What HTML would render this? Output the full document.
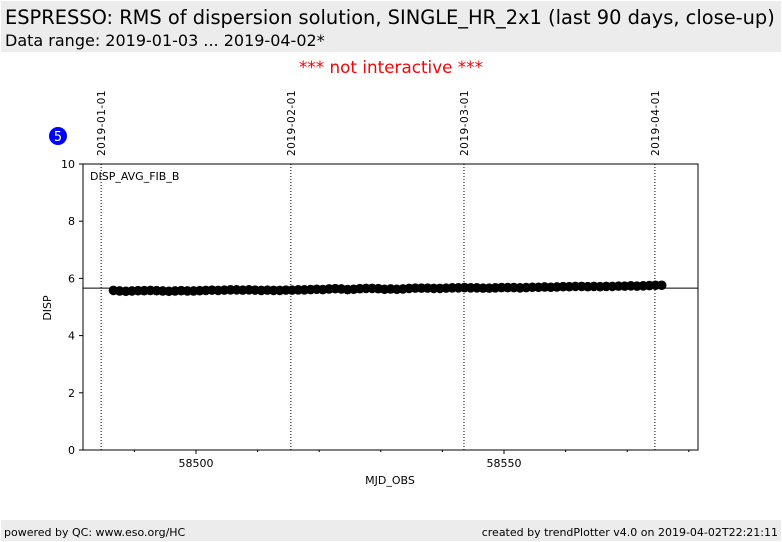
<!DOCTYPE html>
<html><head><meta charset="utf-8">
<style>
body{margin:0;width:782px;height:542px;background:#fff;font-family:"DejaVu Sans","Liberation Sans",sans-serif;position:relative;overflow:hidden}
.hdr{position:absolute;left:1px;top:1px;width:780px;height:51px;background:#ececec}
.t1{position:absolute;left:4px;top:5px;font-size:19.4px;color:#000;white-space:nowrap}
.t2{position:absolute;left:4px;top:30px;font-size:16px;color:#000;white-space:nowrap}
.ftr{position:absolute;left:1px;top:520px;width:780px;height:21px;background:#ececec;font-size:11px}
</style></head><body>
<div class="hdr">
<div class="t1">ESPRESSO: RMS of dispersion solution, SINGLE_HR_2x1 (last 90 days, close-up)</div>
<div class="t2">Data range: 2019-01-03 ... 2019-04-02*</div>
</div>
<div class="ftr">
<span style="position:absolute;left:3px;top:6px">powered by QC: www.eso.org/HC</span>
<span style="position:absolute;right:3px;top:6px">created by trendPlotter v4.0 on 2019-04-02T22:21:11</span>
</div>
<svg id="chart" width="782" height="542" style="position:absolute;left:0;top:0" font-family="DejaVu Sans, Liberation Sans, sans-serif"></svg>
<script>
const dateLabels=["2019-01-01","2019-02-01","2019-03-01","2019-04-01"];
const dateMjd=[58484.6,58515.4,58543.5,58574.5];
const yTicks=[0,2,4,6,8,10];
const xTicks=[58500,58550];
const xMinor=[58490,58510,58520,58530,58540,58560,58570,58580];
const refLine=[5.66];
const startMjd=[58486.6];
const dispValues=[5.58,5.56,5.55,5.56,5.57,5.57,5.58,5.57,5.56,5.55,5.56,5.57,5.56,5.56,5.57,5.58,5.59,5.58,5.59,5.60,5.60,5.59,5.60,5.59,5.58,5.59,5.58,5.58,5.59,5.59,5.60,5.60,5.61,5.62,5.61,5.63,5.64,5.63,5.61,5.62,5.64,5.65,5.65,5.64,5.62,5.63,5.62,5.63,5.65,5.66,5.66,5.66,5.65,5.65,5.66,5.67,5.67,5.68,5.67,5.67,5.66,5.66,5.67,5.68,5.68,5.68,5.67,5.68,5.69,5.69,5.70,5.69,5.70,5.71,5.71,5.72,5.72,5.71,5.72,5.71,5.72,5.72,5.73,5.73,5.74,5.73,5.74,5.75,5.76,5.76];
const NS="http://www.w3.org/2000/svg";
const svg=document.getElementById('chart');
const L=83,R=698,T=164,B=450;
const X=v=>196+(v-58500)*6.16;
const Y=v=>B-(v/10)*(B-T);
function mk(tag,attrs,txt){const e=document.createElementNS(NS,tag);for(const k in attrs)e.setAttribute(k,attrs[k]);if(txt!==undefined)e.textContent=txt;svg.appendChild(e);return e;}
let e;
e=mk('rect',{x:L,y:T,width:R-L,height:B-T,fill:'#fff',stroke:'#000','stroke-width':1});


dateMjd.forEach((m,i)=>{const x=X(m);
e=mk('line',{x1:x,x2:x,y1:T,y2:B,stroke:'#000','stroke-width':1,'stroke-dasharray':'1,2'});


e=mk('text',{x:0,y:0,'font-size':10.5,'letter-spacing':'0.5',transform:`translate(${x+4},156) rotate(-90)`},dateLabels[i]);


});
yTicks.forEach(v=>{const y=Y(v);
e=mk('line',{x1:L-4,x2:L,y1:y,y2:y,stroke:'#000'});


e=mk('text',{x:L-8,y:y+4,'font-size':11,'text-anchor':'end'},String(v));


});
xTicks.forEach(v=>{const x=X(v);
e=mk('line',{x1:x,x2:x,y1:B,y2:B+4,stroke:'#000'});


e=mk('text',{x:x,y:B+17,'font-size':11,'text-anchor':'middle'},String(v));


});
xMinor.forEach(v=>{const x=X(v);if(x<L||x>R)return;
e=mk('line',{x1:x,x2:x,y1:B,y2:B+2,stroke:'#000'});


});
e=mk('line',{x1:L,x2:R,y1:Y(refLine[0]),y2:Y(refLine[0]),stroke:'#000','stroke-width':1});


dispValues.forEach((v,i)=>{
e=mk('circle',{cx:X(startMjd[0]+i),cy:Y(v),r:4.8,fill:'#000'});


});
e=mk('text',{x:90,y:180,'font-size':11},'DISP_AVG_FIB_B');


e=mk('text',{x:390,y:484,'font-size':11,'text-anchor':'middle'},'MJD_OBS');


e=mk('text',{x:0,y:0,'font-size':11,'text-anchor':'middle',transform:'translate(51,308) rotate(-90)'},'DISP');


e=mk('text',{x:391,y:73,'font-size':16.8,fill:'#ff0000','text-anchor':'middle'},'*** not interactive ***');


e=mk('circle',{cx:58,cy:136,r:9,fill:'#0000ff'});


e=mk('text',{x:58,y:141,'font-size':13,fill:'#fff','text-anchor':'middle'},'5');


</script>
</body></html>
